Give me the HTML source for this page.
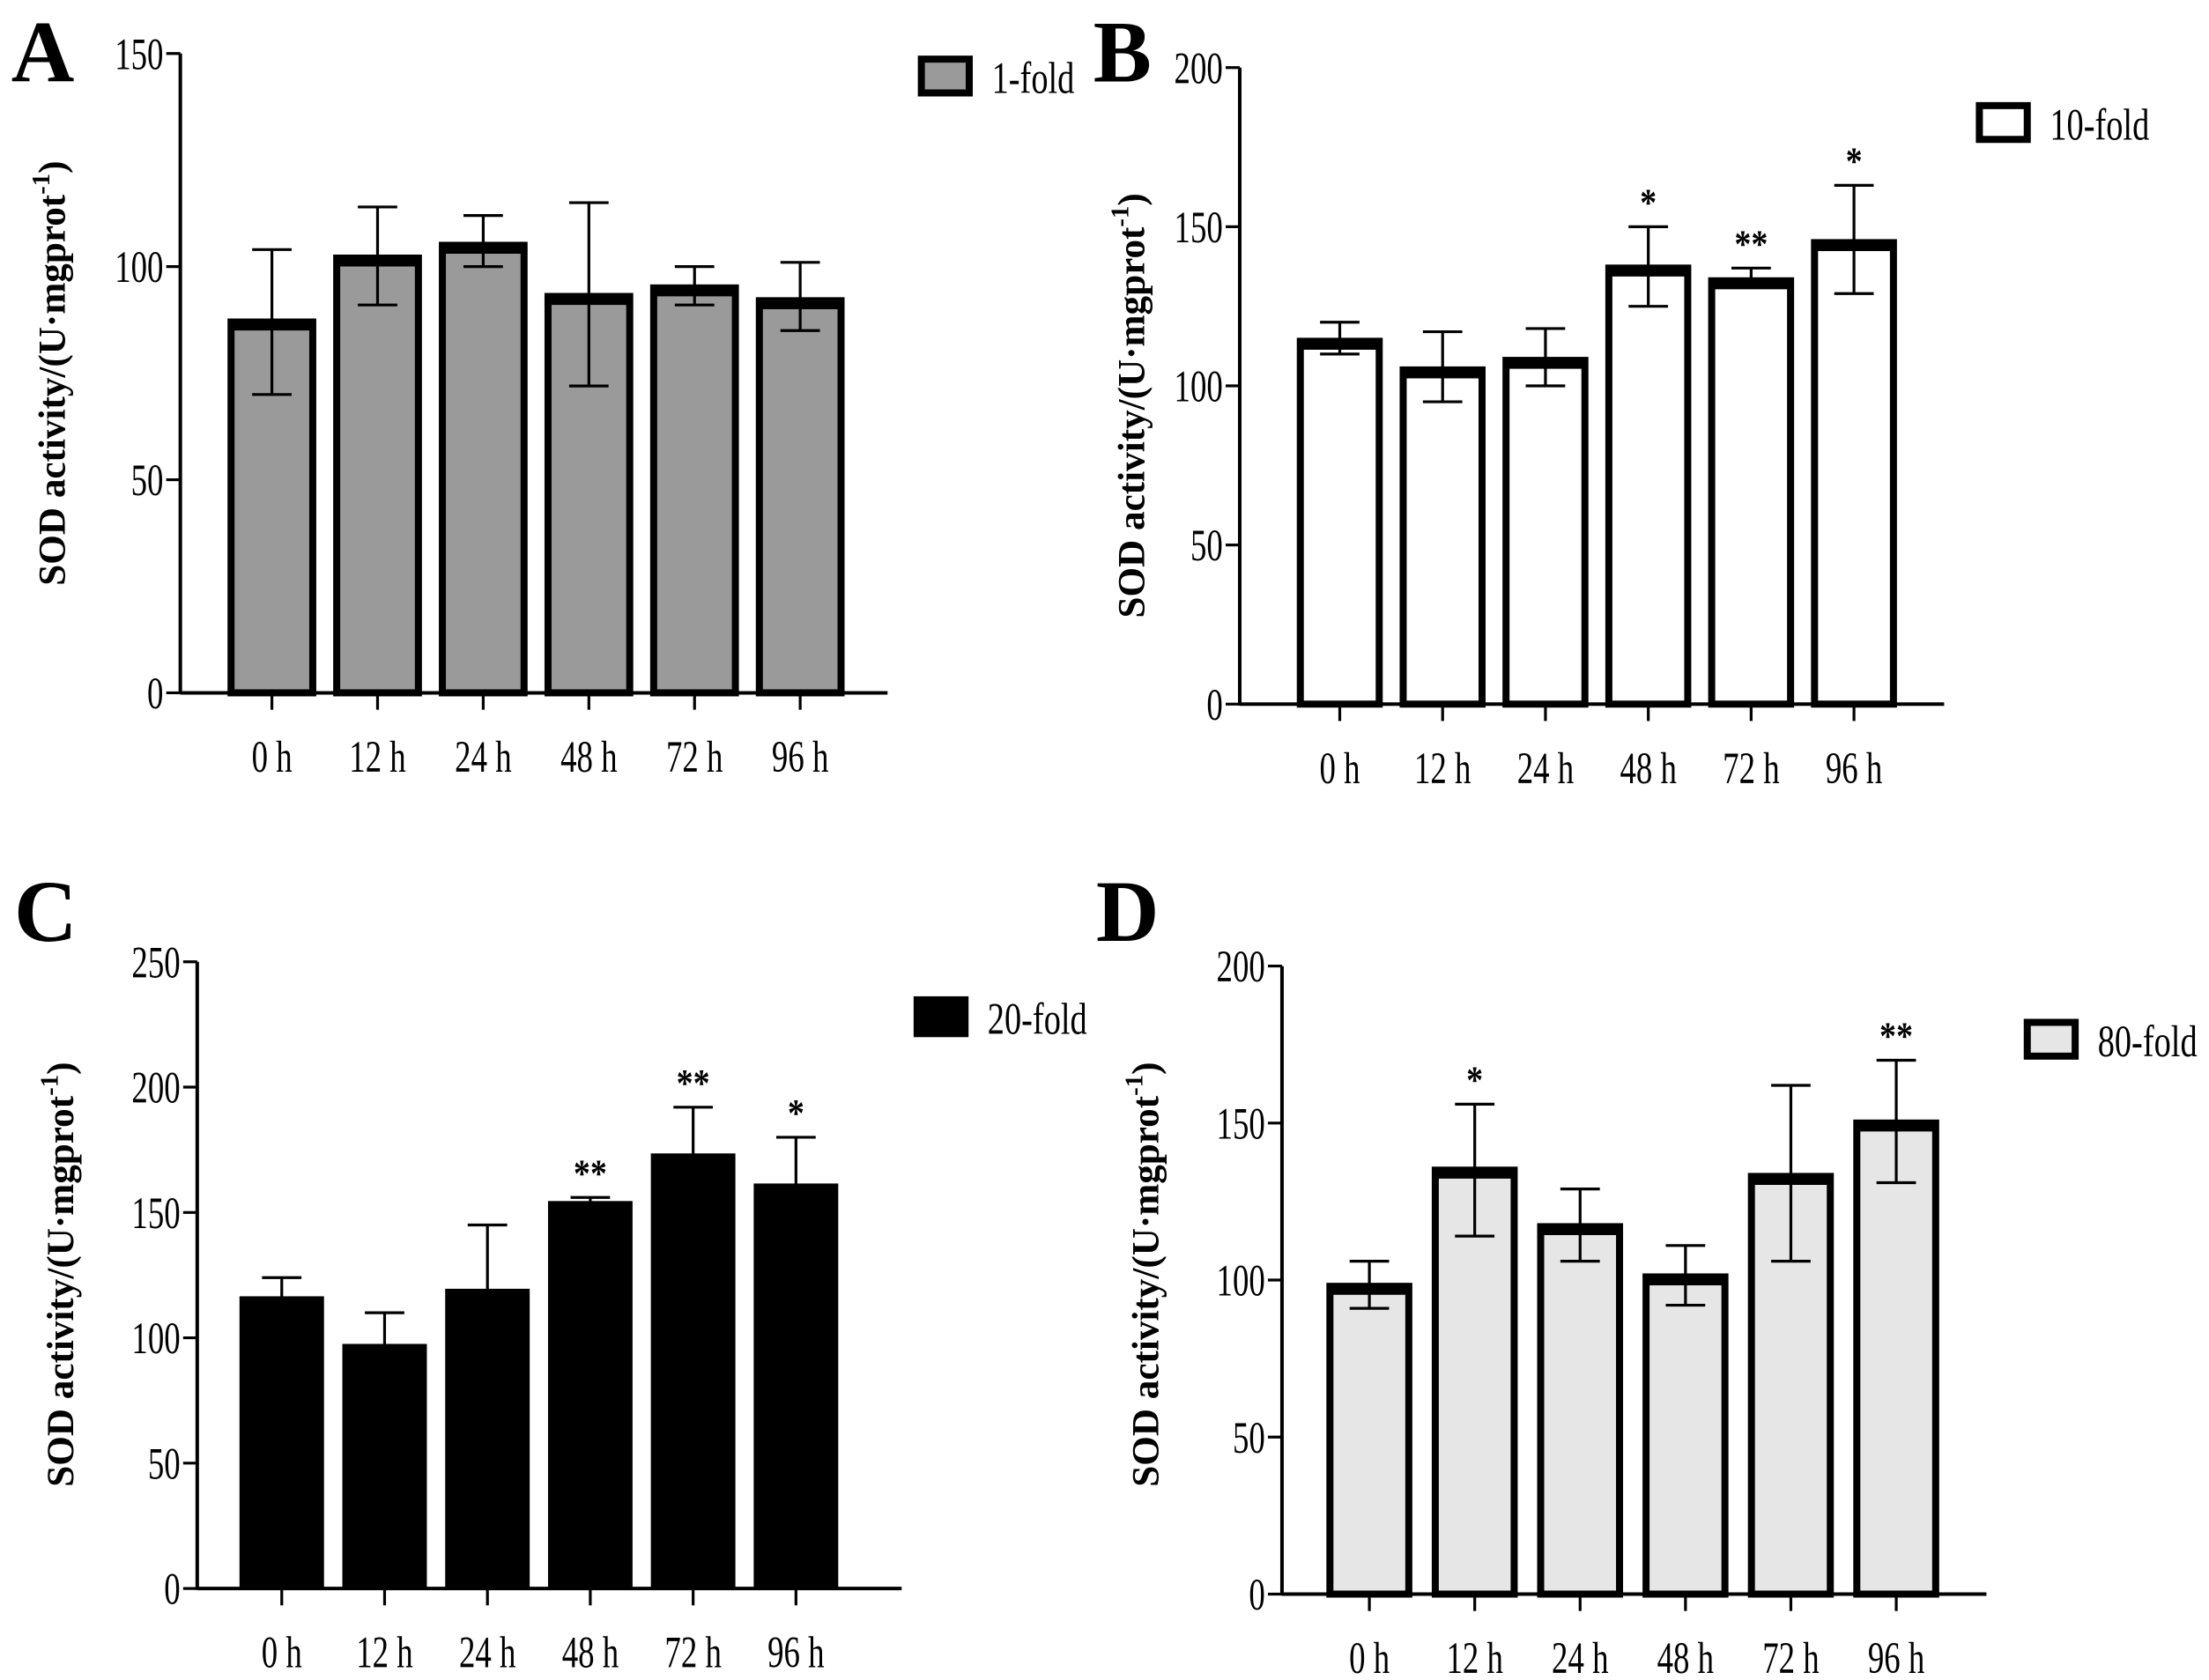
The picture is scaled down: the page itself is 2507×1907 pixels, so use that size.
<!DOCTYPE html>
<html><head><meta charset="utf-8"><style>
html,body{margin:0;padding:0;background:#fff}
svg{display:block}
text{font-family:"Liberation Serif",serif;fill:#000}
</style></head><body>
<svg id="fig" width="2507" height="1907" viewBox="0 0 1568 1193" preserveAspectRatio="none" xmlns="http://www.w3.org/2000/svg"></svg>
<script>
const cats = ["0 h","12 h","24 h","48 h","72 h","96 h"];
const valsA = [87,102,105,93,95,92];
const hiA = [104,114,112,115,100,101];
const loA = [70,91,100,72,91,85];
const sigA = ["","","","","",""];
const valsB = [114,105,108,137,133,145];
const hiB = [120,117,118,150,137,163];
const loB = [110,95,100,125,131,129];
const sigB = ["","","","*","**","*"];
const valsC = [116,97,119,154,173,161];
const hiC = [124,110,145,156,192,180];
const loC = [108,84,93,152,154,142];
const sigC = ["","","","**","**","*"];
const valsD = [98,135,117,101,133,150];
const hiD = [106,156,129,111,162,170];
const loD = [91,114,106,92,106,131];
const sigD = ["","*","","","","**"];
const ticksA = [0,50,100,150];
const ticksB = [0,50,100,150,200];
const ticksC = [0,50,100,150,200,250];
const ticksD = [0,50,100,150,200];

const NS="http://www.w3.org/2000/svg";
const svg=document.getElementById('fig');
function mk(tag,attrs,parent){const e=document.createElementNS(NS,tag);for(const k in attrs)e.setAttribute(k,attrs[k]);(parent||svg).appendChild(e);return e;}
function txt(s,x,y,size,anchor,parent,extra,sx){const g=mk('g',{transform:`translate(${x},${y}) scale(${sx||0.72},1)`},parent);const t=mk('text',Object.assign({x:0,y:0,'font-size':size,'text-anchor':anchor||'middle'},extra||{}),g);t.textContent=s;return t;}

function panel(p){
  const g=mk('g',{});
  
  
  const ymax=p.ticks[p.ticks.length-1];
  const y=v=>p.y0-(v/ymax)*(p.y0-p.y1);
  const xc=i=>p.x0c+i*p.dx;
  const L=mk('text',{x:p.lx,y:p.ly,'font-size':62,'font-weight':'bold'},g);L.textContent=p.letter;
  
  
  for(let i=0;i<cats.length;i++){
    const v=p.vals[i],bw=p.bw;
    const r=mk('rect',{x:xc(i)-bw/2,y:y(v),width:bw,height:p.y0-y(v),fill:p.fill,stroke:'#000','stroke-width':p.sw},g);
    
    
    mk('line',{x1:xc(i)-bw/2,x2:xc(i)+bw/2,y1:y(v)+2,y2:y(v)+2,stroke:'#000','stroke-width':p.sw+3},g);
    mk('line',{x1:xc(i),x2:xc(i),y1:y(p.hi[i]),y2:y(p.lo[i]),stroke:'#000','stroke-width':2},g);
    mk('line',{x1:xc(i)-14,x2:xc(i)+14,y1:y(p.hi[i]),y2:y(p.hi[i]),stroke:'#000','stroke-width':2},g);
    mk('line',{x1:xc(i)-14,x2:xc(i)+14,y1:y(p.lo[i]),y2:y(p.lo[i]),stroke:'#000','stroke-width':2},g);
    if(p.sig[i]){const s=txt(p.sig[i],xc(i),y(p.hi[i])-8,28,'middle',g,{'font-weight':'bold'},0.85);
      }
    mk('line',{x1:xc(i),x2:xc(i),y1:p.y0,y2:p.y0+12,stroke:'#000','stroke-width':2},g);
    const t=txt(cats[i],xc(i),p.y0+56,32,'middle',g);
    
  }
  mk('line',{x1:p.ax,x2:p.ax,y1:p.y1,y2:p.y0+1,stroke:'#000','stroke-width':2.5},g);
  mk('line',{x1:p.ax,x2:p.xend,y1:p.y0,y2:p.y0,stroke:'#000','stroke-width':2.5},g);
  p.ticks.forEach(tv=>{
    mk('line',{x1:p.ax-10,x2:p.ax,y1:y(tv),y2:y(tv),stroke:'#000','stroke-width':2},g);
    const t=txt(String(tv),p.ax-12,y(tv)+11,32,'end',g);
    
  });
  const yt=mk('text',{x:0,y:0,'font-size':27,'font-weight':'bold','text-anchor':'middle',transform:`translate(${p.tx},${p.ty}) rotate(-90)`},g);
  yt.innerHTML='SOD activity/(U·mgprot<tspan dy="-11" font-size="18">-1</tspan><tspan dy="11">)</tspan>';
  
  const lg=mk('g',{},g);
  
  mk('rect',{x:p.legx,y:p.legy,width:34,height:24,fill:p.fill,stroke:'#000','stroke-width':5},lg);
  txt(p.label,p.legx+50,p.legy+24,32,'start',lg,{},0.75);
}

panel({letter:'A',lx:8,ly:58,ax:128,xend:630,y0:492,y1:38,x0c:193,dx:75,bw:58,sw:5,fill:'#9a9a9a',ticks:ticksA,vals:valsA,hi:hiA,lo:loA,sig:sigA,tx:46,ty:265,legx:654,legy:42,label:'1-fold'});
panel({letter:'B',lx:776,ly:58,ax:880,xend:1380,y0:500,y1:48,x0c:951,dx:73,bw:56,sw:5,fill:'#fff',ticks:ticksB,vals:valsB,hi:hiB,lo:loB,sig:sigB,tx:812,ty:288,legx:1405,legy:75,label:'10-fold'});
panel({letter:'C',lx:10,ly:668,ax:140,xend:640,y0:1128,y1:683,x0c:200,dx:73,bw:58,sw:2,fill:'#000',ticks:ticksC,vals:valsC,hi:hiC,lo:loC,sig:sigC,tx:52,ty:905,legx:651,legy:710,label:'20-fold'});
panel({letter:'D',lx:778,ly:668,ax:910,xend:1410,y0:1132,y1:686,x0c:972,dx:74.8,bw:56,sw:5,fill:'#e6e6e6',ticks:ticksD,vals:valsD,hi:hiD,lo:loD,sig:sigD,tx:822,ty:905,legx:1439,legy:726,label:'80-fold'});
</script>
</body></html>
